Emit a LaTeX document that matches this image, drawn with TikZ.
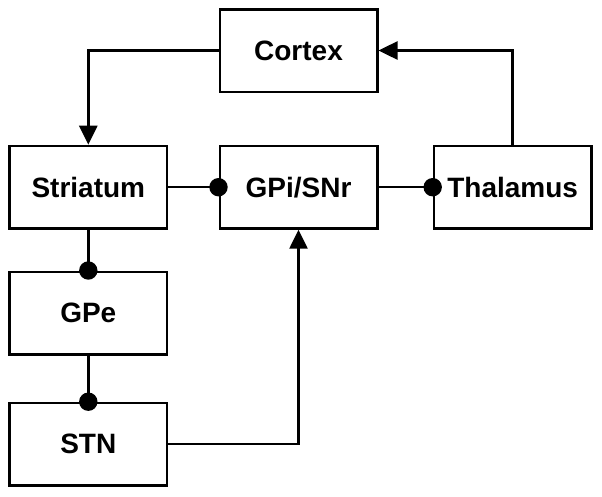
\documentclass[tikz,border=0pt]{standalone}
\usepackage{fontspec}
\setmainfont{Liberation Sans}
\usetikzlibrary{arrows.meta}
\begin{document}
\begin{tikzpicture}[x=1pt,y=-1pt,
  box/.style={draw,line width=2.5pt,rectangle,minimum width=157.5pt,minimum height=82.5pt,inner sep=0pt,
    font=\fontsize{28}{30}\selectfont\bfseries},
  conn/.style={line width=2.5pt},
  arr/.style={conn,-{Triangle[length=19pt,width=18pt]}},
  dotr/.style={fill=black}]
\useasboundingbox (0,0) rectangle (602,496);
\node[box] (cortex) at (298.5,50.5) {Cortex};
\node[box] (str) at (88.3,187.2) {Striatum};
\node[box] (gpi) at (298.5,187.2) {GPi/SNr};
\node[box] (thal) at (512.7,187.2) {Thalamus};
\node[box] (gpe) at (88.3,313) {GPe};
\node[box] (stn) at (88.3,444.2) {STN};
\draw[conn] (str.east) -- (gpi.west);
\fill[dotr] (gpi.west) circle (9.2);
\draw[conn] (gpi.east) -- (thal.west);
\fill[dotr] (thal.west) circle (9.2);
\draw[conn] (str.south) -- (gpe.north);
\fill[dotr] (gpe.north) circle (9.2);
\draw[conn] (gpe.south) -- (stn.north);
\fill[dotr] (stn.north) circle (9.2);
\draw[arr] (stn.east) -| (gpi.south);
\draw[arr] (cortex.west) -| (str.north);
\draw[arr] (thal.north) |- (cortex.east);
\end{tikzpicture}
\end{document}
